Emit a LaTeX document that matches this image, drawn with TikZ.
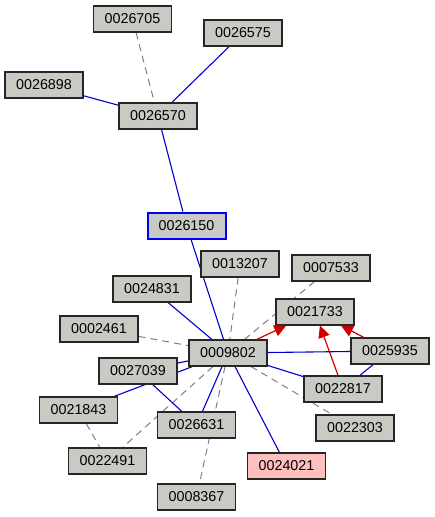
\documentclass[tikz,border=0pt]{standalone}
\usepackage{fontspec}
\setmainfont{Liberation Sans}
\usetikzlibrary{arrows.meta,backgrounds}
\definecolor{nodegray}{HTML}{C8CAC4}
\definecolor{pinkfill}{HTML}{FFBFBF}
\definecolor{edgeblue}{HTML}{0000D0}
\definecolor{edgered}{HTML}{CC0000}
\definecolor{dashgray}{HTML}{808080}
\tikzset{
  box/.style={draw=black!85, line width=1.1pt, fill=nodegray, minimum width=78pt, minimum height=26pt, inner sep=0pt, font=\fontsize{14.3pt}{16pt}\selectfont},
  hilite/.style={box, draw=blue, line width=2pt},
  pinkbox/.style={box, fill=pinkfill},
  bl/.style={draw=edgeblue, line width=1.1pt},
  dl/.style={draw=dashgray, line width=1pt, dash pattern=on 7pt off 5pt},
  rl/.style={draw=edgered, line width=1.2pt, -{Triangle[length=12pt,width=11.5pt]}},
}
\begin{document}
\begin{tikzpicture}[x=1pt,y=-1pt]
\useasboundingbox (0,0) rectangle (435,517);
\node[box] (n26705) at (132.5,19) {0026705};
\node[box] (n26575) at (243,33) {0026575};
\node[box] (n26898) at (44,85) {0026898};
\node[box] (n26570) at (158,116) {0026570};
\node[hilite] (n26150) at (186.5,225.5) {0026150};
\node[box] (n13207) at (240,264) {0013207};
\node[box] (n07533) at (331,268) {0007533};
\node[box] (n24831) at (152,289) {0024831};
\node[box] (n21733) at (315,312) {0021733};
\node[box] (n02461) at (99,329) {0002461};
\node[box] (n09802) at (228,353) {0009802};
\node[box] (n25935) at (390,351) {0025935};
\node[box] (n27039) at (138,371) {0027039};
\node[box] (n22817) at (343,389) {0022817};
\node[box] (n21843) at (78.5,410) {0021843};
\node[box] (n26631) at (196.5,425) {0026631};
\node[box] (n22303) at (355,428) {0022303};
\node[box] (n22491) at (107.5,461) {0022491};
\node[pinkbox] (n24021) at (286.5,466) {0024021};
\node[box] (n08367) at (196.5,497) {0008367};
\begin{pgfonlayer}{background}
\draw[dl] (n26705) -- (n26570);
\draw[bl] (n26575) -- (n26570);
\draw[bl] (n26898) -- (n26570);
\draw[bl] (n26570) -- (n26150);
\draw[bl] (n26150) -- (n09802);
\draw[dl] (n13207) -- (n09802);
\draw[dl] (n07533) -- (n09802);
\draw[bl] (n24831) -- (n09802);
\draw[dl] (n02461) -- (n09802);
\draw[bl] (n09802) -- (n25935);
\draw[bl] (n09802) -- (n22817);
\draw[bl] (n25935) -- (n22817);
\draw[dl] (n09802) -- (n22303);
\draw[bl] (n09802) -- (n24021);
\draw[bl] (n09802) -- (n26631);
\draw[dl] (n09802) -- (n08367);
\draw[dl] (n09802) -- (n22491);
\draw[bl] (n27039) -- (n09802);
\draw[bl] (n21843) -- (n09802);
\draw[bl] (n27039) -- (n26631);
\draw[dl] (n21843) -- (n22491);
\end{pgfonlayer}
\draw[rl] (n09802) -- (n21733);
\draw[rl] (n22817) -- (n21733);
\draw[rl] (n25935) -- (n21733);
\end{tikzpicture}
\end{document}
